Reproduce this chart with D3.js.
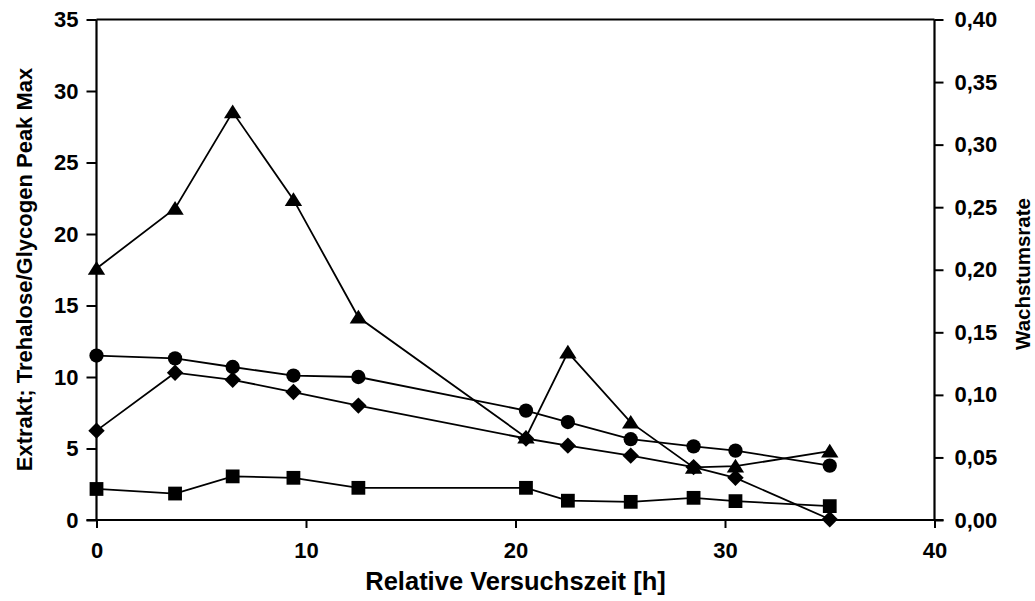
<!DOCTYPE html>
<html><head><meta charset="utf-8">
<script src="https://cdn.jsdelivr.net/npm/d3@7"></script>
<style>body{margin:0;background:#fff}svg{display:block}text{font-family:"Liberation Sans",Arial,sans-serif;font-weight:bold;fill:#000}</style>
</head><body><svg id="c" width="1035" height="601"></svg>
<script>
const time = [0, 3.75, 6.5, 9.4, 12.5, 20.5, 22.5, 25.5, 28.5, 30.5, 35];
const circleVals  = [11.5, 11.3, 10.7, 10.1, 10.0, 7.65, 6.85, 5.65, 5.15, 4.85, 3.8];
const diamondVals = [6.25, 10.3, 9.8, 8.95, 8.0, 5.7, 5.2, 4.5, 3.7, 2.95, 0.05];
const squareVals  = [2.17, 1.85, 3.05, 2.95, 2.25, 2.25, 1.35, 1.27, 1.55, 1.32, 0.97];
const growthRate  = [0.201, 0.249, 0.326, 0.256, 0.162, 0.066, 0.134, 0.078, 0.042, 0.043, 0.055];
const xTicks = [0, 10, 20, 30, 40];
const yLeftTicks = [0, 5, 10, 15, 20, 25, 30, 35];
const yRightTicks = [0, 0.05, 0.10, 0.15, 0.20, 0.25, 0.30, 0.35, 0.40];

const svg = d3.select("#c");
const L = 96.5, R = 934.5, T = 19.5, B = 520;
const x = d3.scaleLinear().domain([0, 40]).range([L, R]);
const yL = d3.scaleLinear().domain([0, 35]).range([B, T]);
const yR = d3.scaleLinear().domain([0, 0.40]).range([B, T]);
const FONT = "Liberation Sans, Arial, sans-serif";
const TICKFS = "22px";

svg.append("line").attr("x1", L).attr("x2", R).attr("y1", T).attr("y2", T).attr("stroke", "#000").attr("stroke-width", 2);

// left axis
const gL = svg.append("g").attr("transform", `translate(${L},0)`);
gL.call(d3.axisLeft(yL).tickValues(d3.range(0, 36, 1)).tickSize(6).tickFormat(""));
gL.call(d3.axisLeft(yL).tickValues(yLeftTicks).tickSize(10).tickPadding(8).tickFormat(d3.format("d")));
gL.selectAll(".domain").attr("stroke-width", 2.2).attr("d", `M0,${T}V${B}`);
gL.selectAll(".tick line").attr("stroke-width", 2);
gL.selectAll("text").style("font-size", TICKFS).style("font-family", FONT).style("font-weight", "bold");

// right axis
const gR = svg.append("g").attr("transform", `translate(${R},0)`);
gR.call(d3.axisRight(yR).tickValues(d3.range(0, 41, 1).map(d => d / 100)).tickSize(5).tickFormat(""));
gR.call(d3.axisRight(yR).tickValues(yRightTicks).tickSize(9).tickPadding(11).tickFormat(d => d3.format(".2f")(d).replace(".", ",")));
gR.selectAll(".domain").attr("stroke-width", 2.2).attr("d", `M0,${T}V${B}`);
gR.selectAll(".tick line").attr("stroke-width", 2);
gR.selectAll("text").style("font-size", TICKFS).style("font-family", FONT).style("font-weight", "bold");

// bottom axis
const gB = svg.append("g").attr("transform", `translate(0,${B})`);
gB.call(d3.axisBottom(x).tickValues(xTicks).tickSize(8).tickPadding(14).tickFormat(d3.format("d")));
gB.selectAll(".domain").attr("stroke-width", 2.2).attr("d", `M${L - 10},0H${R + 9}`);
gB.selectAll(".tick line").attr("stroke-width", 2);
gB.selectAll("text").style("font-size", TICKFS).style("font-family", FONT).style("font-weight", "bold");

// titles
svg.append("text").attr("x", 515.5).attr("y", 590).attr("text-anchor", "middle").style("font-size", "25.5px").text("Relative Versuchszeit [h]");
svg.append("text").attr("transform", "translate(32,269.5) rotate(-90)").attr("text-anchor", "middle").style("font-size", "22px").text("Extrakt; Trehalose/Glycogen Peak Max");
svg.append("text").attr("transform", "translate(1030,274) rotate(-90)").attr("text-anchor", "middle").style("font-size", "20.5px").text("Wachstumsrate");

const diamondSym = { draw(ctx) { const h = 8.2, w = 8.2; ctx.moveTo(0, -h); ctx.lineTo(w, 0); ctx.lineTo(0, h); ctx.lineTo(-w, 0); ctx.closePath(); } };
const triSym = { draw(ctx) { ctx.moveTo(0, -7.5); ctx.lineTo(8.7, 6.2); ctx.lineTo(-8.7, 6.2); ctx.closePath(); } };

function series(vals, yScale, symType, size) {
  const pts = time.map((t, i) => [x(t), yScale(vals[i])]);
  svg.append("path").attr("d", d3.line()(pts)).attr("fill", "none").attr("stroke", "#000").attr("stroke-width", 1.8);
  svg.append("g").selectAll("path").data(pts).join("path")
    .attr("transform", d => `translate(${d[0]},${d[1]})`)
    .attr("d", d3.symbol().type(symType).size(size)).attr("fill", "#000");
}
series(squareVals, yL, d3.symbolSquare, 190);
series(diamondVals, yL, diamondSym, 1);
series(circleVals, yL, d3.symbolCircle, 160);
series(growthRate, yR, triSym, 1);
</script></body></html>
